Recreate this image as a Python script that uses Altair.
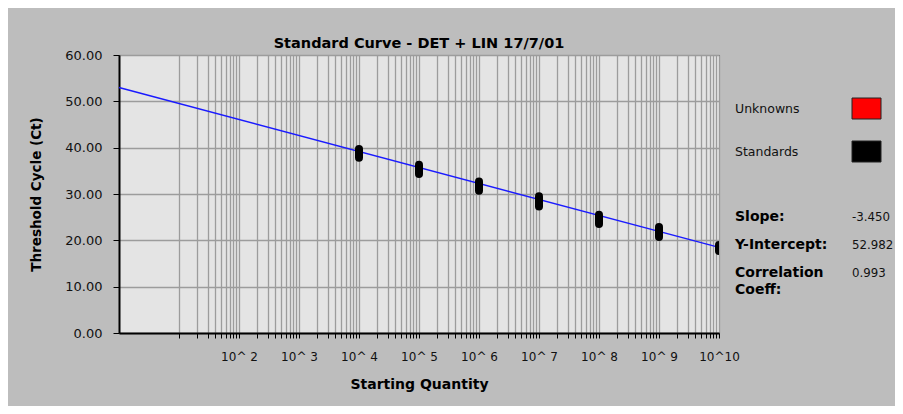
import altair as alt
import pandas as pd

# ---- data ----
std_qty = [1e4, 1e5, 1e6, 1e7, 1e8, 1e9, 1e10]
std_ct_low = [37.8, 34.3, 30.7, 27.3, 23.5, 20.7, 17.7]
std_ct_high = [39.7, 36.3, 32.7, 29.5, 25.5, 22.9, 19.0]
line_qty = [1, 1e10]
line_ct = [52.98, 18.48]
y_ticks = [0, 10, 20, 30, 40, 50, 60]
x_tick_values = [m * 10 ** d for d in range(1, 10) for m in range(1, 10)] + [1e10]
legend_labels = ["Unknowns", "Standards"]
legend_colors = ["#ff0000", "#000000"]
stat_labels = ["Slope:", "Y-Intercept:", "Correlation", "Coeff:"]
stat_values = ["-3.450", "52.982", "0.993", ""]
title_text = "Standard Curve - DET + LIN 17/7/01"

FONT = "DejaVu Sans"
W, H = 600, 278

std_df = pd.DataFrame({"qty": std_qty, "lo": std_ct_low, "hi": std_ct_high})
line_df = pd.DataFrame({"qty": line_qty, "ct": line_ct})

xscale = alt.Scale(type="log", domain=[1, 1e10], nice=False)
yscale = alt.Scale(domain=[0, 60], nice=False)

label_expr = (
    "(abs(log(datum.value)/LN10 - round(log(datum.value)/LN10)) < 0.001 && datum.value >= 100) ? "
    "(datum.value >= 1e10 ? '10^10' : '10^ ' + round(log(datum.value)/LN10)) : ''"
)

xaxis = alt.Axis(
    values=x_tick_values, labelExpr=label_expr, labelOverlap=False, labelFlush=False,
    title="Starting Quantity", tickSize=5, labelPadding=13, titlePadding=15,
    labelFont=FONT, labelFontSize=12, titleFont=FONT, titleFontSize=14,
    titleFontWeight="bold", labelColor="#111", titleColor="#000",
)
yaxis = alt.Axis(
    values=y_ticks, format=".2f", title="Threshold Cycle (Ct)", tickSize=6,
    labelPadding=11, titlePadding=21, labelFont=FONT, labelFontSize=13,
    titleFont=FONT, titleFontSize=13.5, titleFontWeight="bold",
    labelColor="#111", titleColor="#000",
)

base_line = alt.Chart(line_df).mark_line(color="#1a1aff", strokeWidth=1.4).encode(
    x=alt.X("qty:Q", scale=xscale, axis=xaxis),
    y=alt.Y("ct:Q", scale=yscale, axis=yaxis),
)

pills = alt.Chart(std_df).mark_rule(
    color="#000000", strokeWidth=8, strokeCap="round", clip=True
).encode(
    x=alt.X("qty:Q", scale=xscale),
    y=alt.Y("lo:Q", scale=yscale),
    y2="hi:Q",
)

layers = [base_line, pills]

# legend (right side)
leg_y = [54, 97]
for lab, col, yy in zip(legend_labels, legend_colors, leg_y):
    layers.append(
        alt.Chart(pd.DataFrame({"t": [lab]})).mark_text(
            align="left", baseline="middle", font=FONT, fontSize=12.5, color="#111"
        ).encode(text="t:N", x=alt.value(616), y=alt.value(yy))
    )
    layers.append(
        alt.Chart(pd.DataFrame({"c": [col]})).mark_rect(
            stroke="#222", strokeWidth=1
        ).encode(
            color=alt.Color("c:N", scale=None),
            x=alt.value(733), x2=alt.value(762),
            y=alt.value(yy - 11), y2=alt.value(yy + 10),
        )
    )

# statistics
stat_y = [162, 190, 218, 235]
for lab, val, yy in zip(stat_labels, stat_values, stat_y):
    layers.append(
        alt.Chart(pd.DataFrame({"t": [lab]})).mark_text(
            align="left", baseline="middle", font=FONT, fontSize=14,
            fontWeight="bold", color="#000"
        ).encode(text="t:N", x=alt.value(616), y=alt.value(yy))
    )
    if val:
        layers.append(
            alt.Chart(pd.DataFrame({"t": [val]})).mark_text(
                align="left", baseline="middle", font=FONT, fontSize=11.8, color="#111"
            ).encode(text="t:N", x=alt.value(733), y=alt.value(yy))
        )

chart = alt.layer(*layers).properties(
    width=W, height=H,
    title=alt.TitleParams(title_text, font=FONT, fontSize=14.5, fontWeight="bold",
                          color="#000", anchor="middle", offset=-2),
    autosize="none",
    padding={"left": 111, "top": 47, "right": 176, "bottom": 73},
    background="#bdbdbd",
).configure_view(
    fill="#e4e4e4", stroke="#222222", strokeWidth=1
).configure_axis(
    domainColor="#000", domainWidth=2, tickColor="#000", tickWidth=1,
    gridColor="#9c9c9c", gridWidth=1.3, gridOpacity=1,
)

chart.save("out.html", embed_options={"renderer": "svg", "actions": False})
